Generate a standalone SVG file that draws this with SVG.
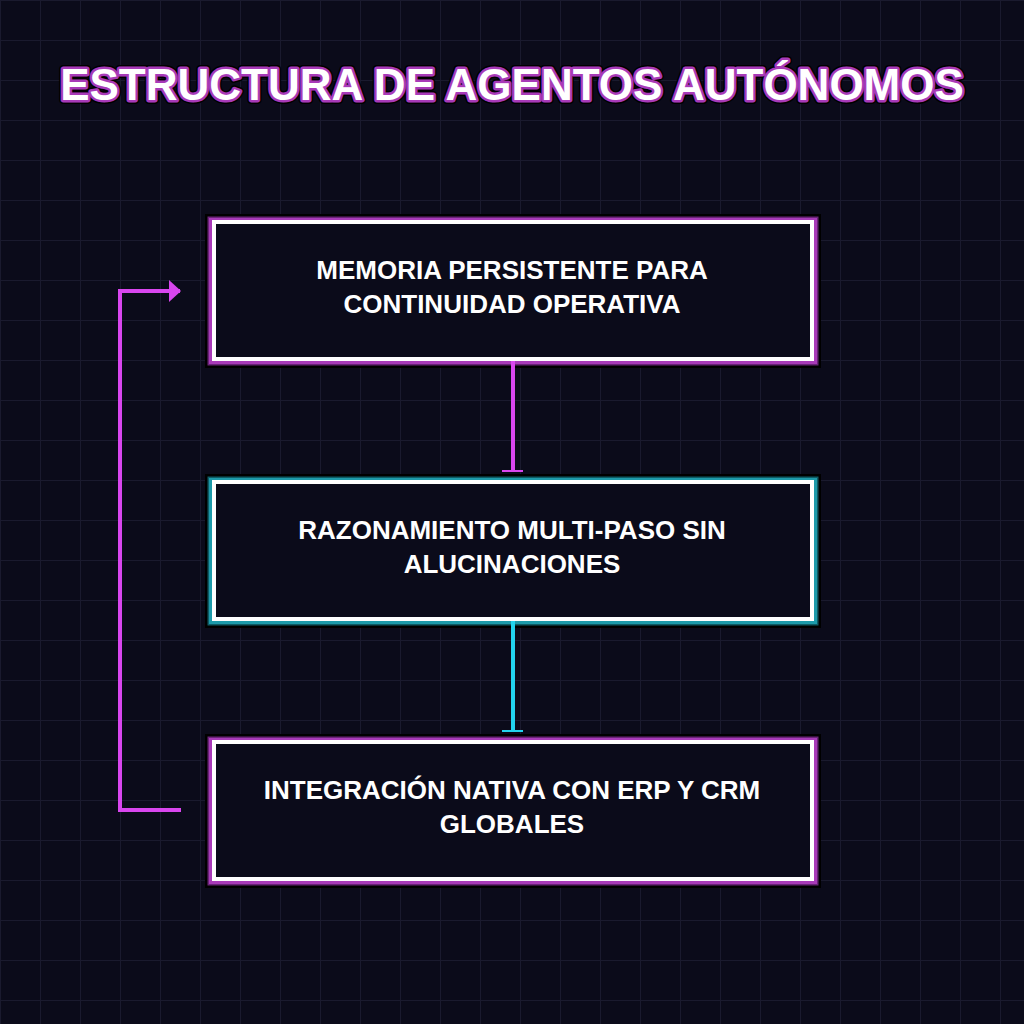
<svg xmlns="http://www.w3.org/2000/svg" width="1024" height="1024" viewBox="0 0 1024 1024">
<defs>
<pattern id="grid" width="40" height="40" patternUnits="userSpaceOnUse">
<path d="M0 0H40M0 0V40" fill="none" stroke="#1a1a2e" stroke-width="2"/>
</pattern>
<marker id="arrowM" viewBox="0 0 12 22" refX="11" refY="11" markerWidth="12" markerHeight="22" markerUnits="userSpaceOnUse" orient="auto">
<path d="M0 0L12 11L0 22Z" fill="#d946ef"/>
</marker>
</defs>
<style>
.t{font-family:"Liberation Sans",Arial,sans-serif;font-weight:bold;text-anchor:middle}
.title{font-size:44px}
.lbl{font-size:26px;fill:#ffffff}
.box{fill:#0b0b1a;stroke:#ffffff;stroke-width:4}
.g1{fill:none;stroke:#000000;stroke-width:16}
.g2{fill:none;stroke-width:11}
.g3{fill:none;stroke-width:8}
.m2{stroke:#6a2478}.m3{stroke:#a83ab8}
.c2{stroke:#0e5c66}.c3{stroke:#1d9aaa}
</style>
<rect width="1024" height="1024" fill="#0b0b1a"/>
<rect width="1024" height="1024" fill="url(#grid)"/>
<g id="title">
<text class="t title" x="512" y="100" fill="none" stroke="#000" stroke-width="8" stroke-linejoin="round">ESTRUCTURA DE AGENTOS AUTÓNOMOS</text>
<text class="t title" x="512" y="100" fill="none" stroke="#a83ab8" stroke-width="5" stroke-linejoin="round">ESTRUCTURA DE AGENTOS AUTÓNOMOS</text>
<text class="t title" x="512" y="100" fill="#ffffff">ESTRUCTURA DE AGENTOS AUTÓNOMOS</text>
</g>
<g id="node1">
<rect class="g1" x="213" y="222" width="600" height="138"/>
<rect class="g2 m2" x="213" y="222" width="600" height="138"/>
<rect class="g3 m3" x="213" y="222" width="600" height="138"/>
<rect class="box" x="214" y="222" width="598" height="137"/>
<text class="t lbl" x="512" y="279">MEMORIA PERSISTENTE PARA</text>
<text class="t lbl" x="512" y="313">CONTINUIDAD OPERATIVA</text>
</g>
<g id="node2">
<rect class="g1" x="213" y="482" width="600" height="138"/>
<rect class="g2 c2" x="213" y="482" width="600" height="138"/>
<rect class="g3 c3" x="213" y="482" width="600" height="138"/>
<rect class="box" x="214" y="482" width="598" height="137"/>
<text class="t lbl" x="512" y="539">RAZONAMIENTO MULTI-PASO SIN</text>
<text class="t lbl" x="512" y="573">ALUCINACIONES</text>
</g>
<g id="node3">
<rect class="g1" x="213" y="742" width="600" height="138"/>
<rect class="g2 m2" x="213" y="742" width="600" height="138"/>
<rect class="g3 m3" x="213" y="742" width="600" height="138"/>
<rect class="box" x="214" y="742" width="598" height="137"/>
<text class="t lbl" x="512" y="799">INTEGRACIÓN NATIVA CON ERP Y CRM</text>
<text class="t lbl" x="512" y="833">GLOBALES</text>
</g>
<g id="connectors">
<line x1="513" y1="361" x2="513" y2="471" stroke="#d946ef" stroke-width="4"/>
<line x1="502" y1="471" x2="523" y2="471" stroke="#d946ef" stroke-width="2"/>
<line x1="513" y1="621" x2="513" y2="731" stroke="#22d3ee" stroke-width="4"/>
<line x1="502" y1="731" x2="523" y2="731" stroke="#22d3ee" stroke-width="2"/>
<path d="M181 810H120V291H180" fill="none" stroke="#d946ef" stroke-width="4" marker-end="url(#arrowM)"/>
</g>
</svg>
